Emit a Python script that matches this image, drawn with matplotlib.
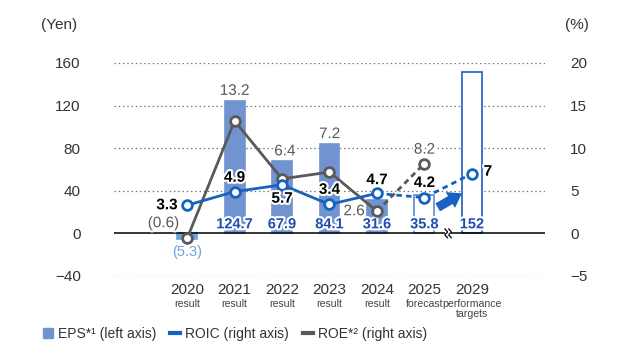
import numpy as np
import matplotlib
matplotlib.use("Agg")
import matplotlib.pyplot as plt
from matplotlib.patches import Patch
from matplotlib.lines import Line2D
import matplotlib.patheffects as pe

plt.rcParams['font.family'] = ['Liberation Sans', 'DejaVu Sans']

# data
years = ['2020', '2021', '2022', '2023', '2024', '2025', '2029']
sublabels = ['result', 'result', 'result', 'result', 'result', 'forecast',
             'performance\ntargets']
eps = [-5.3, 124.7, 67.9, 84.1, 31.6, 35.8, 152]
eps_labels = ['(5.3)', '124.7', '67.9', '84.1', '31.6', '35.8', '152']
roic = [3.3, 4.9, 5.7, 3.4, 4.7, 4.2, 7]
roic_labels = ['3.3', '4.9', '5.7', '3.4', '4.7', '4.2', '7']
roe = [-0.6, 13.2, 6.4, 7.2, 2.6, 8.2]
roe_labels = ['(0.6)', '13.2', '6.4', '7.2', '2.6', '8.2']

BAR = '#7193d0'
NEG = '#6ea2dc'
FORE = '#5a8ed2'
TARGET = '#1a5fc4'
ROIC_C = '#1463be'
ROE_C = '#595959'
EPS_TXT = '#1f4fae'

x = np.arange(len(years))

fig = plt.figure(figsize=(6.3, 3.61), dpi=100)
ax = fig.add_axes([0.181, 0.2355, 0.684, 0.59])
ax2 = ax.twinx()
ax.set_zorder(1)
ax2.set_zorder(2)
ax2.patch.set_visible(False)

ax.set_xlim(-1.54, 7.54)
ax.set_ylim(-40, 160)
ax2.set_ylim(-5, 20)

for a in (ax, ax2):
    for s in a.spines.values():
        s.set_visible(False)
    a.tick_params(length=0, labelsize=11, labelcolor='#333333')

ax.set_yticks([-40, 0, 40, 80, 120, 160])
ax.set_yticklabels(['\u221240', '0', '40', '80', '120', '160'])
ax.tick_params(axis='y', pad=24)
ax2.set_yticks([-5, 0, 5, 10, 15, 20])
ax2.set_yticklabels(['\u22125', '0', '5', '10', '15', '20'])
ax2.tick_params(axis='y', pad=18)

for gy in [-40, 40, 80, 120, 160]:
    ax.axhline(gy, color='#777777', lw=0.9, ls=(0, (1.2, 2.2)), zorder=0)
ax.axhline(0, color='black', lw=1.1, zorder=3)

# bars
w = 0.42
colors = [NEG, BAR, BAR, BAR, BAR, 'white', 'white']
edges = [NEG, BAR, BAR, BAR, BAR, FORE, TARGET]
ax.bar(x, eps, width=w, color=colors, edgecolor=edges, linewidth=1.2, zorder=2)

# x labels
ax.set_xticks(x)
ax.set_xticklabels([])
for i in range(len(years)):
    ax.annotate(years[i], (x[i], 0), xycoords=('data', 'axes fraction'),
                xytext=(0, -10), textcoords='offset points', ha='center',
                va='center', fontsize=11, color='#333333')
    ax.annotate(sublabels[i], (x[i], 0), xycoords=('data', 'axes fraction'),
                xytext=(0, -16.5), textcoords='offset points', ha='center',
                va='top', fontsize=7.6, color='#444444', linespacing=0.95)

# EPS labels
halo = [pe.withStroke(linewidth=3, foreground='white')]
for i in range(len(years)):
    if eps[i] < 0:
        ax.annotate(eps_labels[i], (x[i], eps[i]), xytext=(0, -4),
                    textcoords='offset points', ha='center', va='top',
                    fontsize=10.5, color=NEG, zorder=6)
    else:
        ax.annotate(eps_labels[i], (x[i], 0), xytext=(0, 1.5),
                    textcoords='offset points', ha='center', va='bottom',
                    fontsize=10.5, fontweight='bold', color=EPS_TXT,
                    path_effects=halo, zorder=6)

# ROE line
ax2.plot(x[:5], roe[:5], color=ROE_C, lw=2, zorder=3)
ax2.plot(x[4:6], roe[4:6], color=ROE_C, lw=2, ls=(0, (2, 1.5)), zorder=3)
ax2.plot(x[:6], roe, ls='none', marker='o', ms=7, mfc='white', mec=ROE_C,
         mew=2, zorder=4)

# ROIC line
ax2.plot(x[:5], roic[:5], color=ROIC_C, lw=2, zorder=5)
ax2.plot(x[4:], roic[4:], color=ROIC_C, lw=2, ls=(0, (2, 1.5)), zorder=5)
ax2.plot(x, roic, ls='none', marker='o', ms=7, mfc='white', mec=ROIC_C,
         mew=2, zorder=6)

# ROE labels (offsets in points, from marker or from bar top)
roe_off = [(-17, 11), (0, 7), (2, 7), (0, 7), (-16.5, 0), (0, 10)]
for i in range(len(roe)):
    dx, dy = roe_off[i]
    if i in (1, 2, 3):
        ax.annotate(roe_labels[i], (x[i], eps[i]), xytext=(dx, dy),
                    textcoords='offset points', ha='center', va='center',
                    fontsize=11, color=ROE_C, zorder=7, path_effects=halo)
    else:
        ax2.annotate(roe_labels[i], (x[i], roe[i]), xytext=(dx, dy),
                     textcoords='offset points', ha='center', va='center',
                     fontsize=11, color=ROE_C, zorder=7, path_effects=halo)

# ROIC labels
roic_off = [(-14.5, 0), (0, 10), (0, -10), (0, 10.5), (0, 9.5), (0, 10.5),
            (11.5, 1.5)]
for i in range(len(roic)):
    dx, dy = roic_off[i]
    ax2.annotate(roic_labels[i], (x[i], roic[i]), xytext=(dx, dy),
                 textcoords='offset points', ha='center', va='center',
                 fontsize=11, fontweight='bold', color='black', zorder=8,
                 path_effects=halo)

# arrow toward the target
ax2.annotate('', xy=(5.79, 4.7), xytext=(5.28, 3.05),
             arrowprops=dict(arrowstyle='simple,head_width=1.1,head_length=0.8,tail_width=0.55',
                             mutation_scale=12, color=TARGET, lw=0,
                             shrinkA=0, shrinkB=0), zorder=7)

# axis break mark on the zero line
t = np.linspace(-1, 1, 40)
ax.fill_between([5.44, 5.56], -4, 4, color='white', lw=0, zorder=4)
for off in (-0.04, 0.04):
    ax.plot(5.5 + off + 0.025 * np.sin(t * np.pi * 1.5), t * 4.2,
            color='black', lw=0.9, zorder=5)

# axis unit labels
fig.text(59 / 630, 1 - 25 / 361, '(Yen)', ha='center', va='center',
         fontsize=11, color='#333333')
fig.text(577 / 630, 1 - 25 / 361, '(%)', ha='center', va='center',
         fontsize=11, color='#333333')

handles = [Patch(color=BAR),
           Line2D([0], [0], color=ROIC_C, lw=3),
           Line2D([0], [0], color=ROE_C, lw=3)]
labels = ['EPS*\u00b9 (left axis)', 'ROIC (right axis)',
          'ROE*\u00b2 (right axis)']
fig.legend(handles, labels, loc='center left',
           bbox_to_anchor=(30 / 630, 1 - 334 / 361),
           ncol=3, frameon=False, fontsize=10, handlelength=0.75,
           handleheight=0.75, handletextpad=0.35, columnspacing=1.0,
           labelcolor='#333333')

fig.savefig('out.png', dpi=100)
